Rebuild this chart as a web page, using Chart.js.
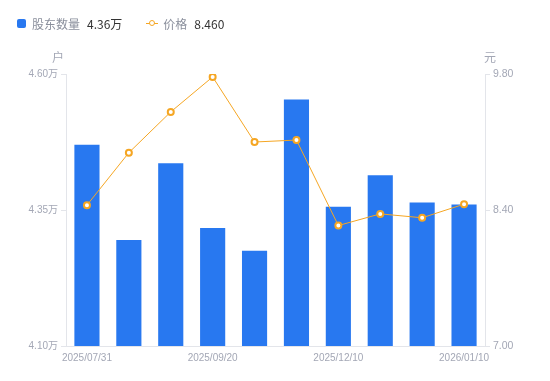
<!DOCTYPE html>
<html>
<head>
<meta charset="utf-8">
<script src="https://cdn.jsdelivr.net/npm/chart.js@4/dist/chart.umd.min.js"></script>
<style>
  html, body { margin: 0; padding: 0; background: #fff; }
  #wrap { position: relative; width: 550px; height: 381px; font-family: "Noto Sans CJK SC", "Noto Sans", sans-serif; }
  #legend { position: absolute; left: 17px; top: 15px; font-size: 12px; display: flex; align-items: center; white-space: nowrap; }
  .item { display: flex; align-items: center; margin-right: 24px; }
  .sq { width: 9px; height: 9px; border-radius: 2px; background: #2878F0; margin-right: 6px; }
  .ln { position: relative; width: 12px; height: 9px; margin-right: 5px; }
  .ln:before { content: ""; position: absolute; left: 0; right: 0; top: 4px; height: 1px; background: #F5A623; }
  .ln:after { content: ""; position: absolute; left: 3px; top: 1px; width: 4px; height: 4px; border: 1.5px solid #F5A623; border-radius: 50%; background: #fff; }
  .nm { color: #8a8f9c; margin-right: 7px; }
  .val { color: #333; }
  canvas { position: absolute; left: 0; top: 0; }
</style>
</head>
<body>
<div id="wrap">
  <canvas id="c" width="550" height="381"></canvas>
  <div id="legend"></div>
</div>
<script>
const categories = ["2025/07/31","2025/08/20","2025/08/31","2025/09/20","2025/09/30","2025/10/31","2025/12/10","2025/12/20","2025/12/31","2026/01/10"];
const holders = [4.470, 4.295, 4.436, 4.317, 4.275, 4.553, 4.356, 4.414, 4.364, 4.360]; // 万户
const prices = [8.45, 8.99, 9.41, 9.77, 9.10, 9.12, 8.24, 8.36, 8.32, 8.46]; // 元
const leftTicks = [4.10, 4.35, 4.60];
const rightTicks = [7.00, 8.40, 9.80];
const seriesNames = ["股东数量", "价格"];
const leftUnit = "户";
const rightUnit = "元";
const shownLabelIdx = [0, 3, 6, 9];

const BLUE = "#2878F0";
const ORANGE = "#F5A623";
const TICK = "#a3a7b5";
const AXIS = "#e3e5ea";
const FONT = '"Noto Sans CJK SC", "Noto Sans", sans-serif';
const TFONT = '"Liberation Sans", "Noto Sans CJK SC", sans-serif';

document.getElementById("legend").innerHTML =
  '<div class="item"><div class="sq"></div><span class="nm">' + seriesNames[0] + '</span><span class="val">' + holders[holders.length-1].toFixed(2) + '万</span></div>' +
  '<div class="item"><div class="ln"></div><span class="nm">' + seriesNames[1] + '</span><span class="val">' + prices[prices.length-1].toFixed(3) + '</span></div>';

const unitPlugin = {
  id: "units",
  afterDraw(chart) {
    const ctx = chart.ctx;
    const a = chart.chartArea;
    ctx.save();
    ctx.font = "12px " + FONT;
    ctx.fillStyle = TICK;
    ctx.textBaseline = "middle";
    ctx.textAlign = "center";
    ctx.fillText(leftUnit, a.left - 8, a.top - 17);
    ctx.fillText(rightUnit, a.right + 5, a.top - 17);
    ctx.restore();
  }
};

new Chart(document.getElementById("c"), {
  data: {
    labels: categories,
    datasets: [
      {
        type: "line",
        label: seriesNames[1],
        data: prices,
        yAxisID: "y1",
        borderColor: ORANGE,
        borderWidth: 1,
        pointRadius: 3,
        pointBorderWidth: 2,
        pointBackgroundColor: "#fff",
        pointBorderColor: ORANGE,
        tension: 0,
        order: 0
      },
      {
        type: "bar",
        label: seriesNames[0],
        data: holders,
        yAxisID: "y",
        backgroundColor: BLUE,
        borderWidth: 0,
        categoryPercentage: 1,
        barPercentage: 0.6,
        order: 1
      }
    ]
  },
  options: {
    responsive: false,
    animation: false,
    layout: { padding: { top: 74, left: 0, right: 0, bottom: 0 } },
    plugins: { legend: { display: false }, tooltip: { enabled: false } },
    scales: {
      x: {
        grid: { display: false, drawTicks: false },
        border: { display: true, color: AXIS },
        ticks: {
          autoSkip: false, maxRotation: 0, padding: 6,
          color: TICK, font: { size: 10, family: TFONT },
          callback: function(v, i) { return shownLabelIdx.includes(i) ? categories[i] : ""; }
        },
        afterFit(s) { s.height = 35; }
      },
      y: {
        position: "left",
        min: leftTicks[0], max: leftTicks[leftTicks.length-1],
        afterBuildTicks(s) { s.ticks = leftTicks.map(v => ({ value: v })); },
        grid: { drawOnChartArea: false, drawTicks: true, tickLength: 5, color: AXIS },
        border: { display: true, color: AXIS },
        ticks: { padding: 3, color: TICK, font: { size: 10, family: TFONT }, callback: v => v.toFixed(2) + "万" },
        afterFit(s) { s.width = 66; }
      },
      y1: {
        position: "right",
        min: rightTicks[0], max: rightTicks[rightTicks.length-1],
        afterBuildTicks(s) { s.ticks = rightTicks.map(v => ({ value: v })); },
        grid: { drawOnChartArea: false, drawTicks: true, tickLength: 5, color: AXIS },
        border: { display: true, color: AXIS },
        ticks: { padding: 3, color: TICK, font: { size: 10.5, family: TFONT }, callback: v => v.toFixed(2) },
        afterFit(s) { s.width = 65; }
      }
    }
  },
  plugins: [unitPlugin]
});
</script>
</body>
</html>
